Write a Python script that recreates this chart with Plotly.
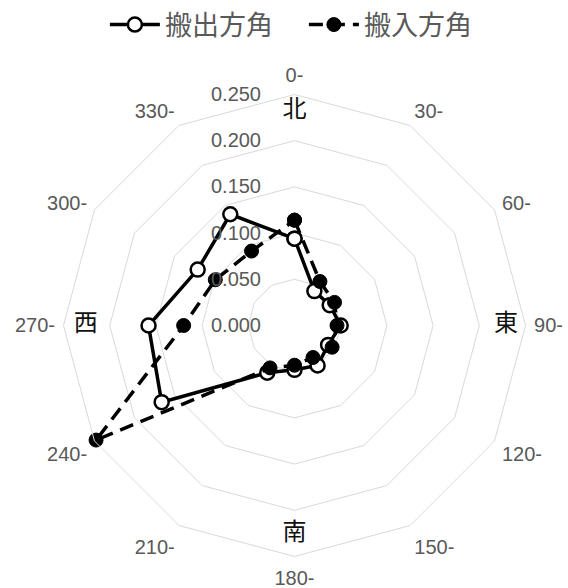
import plotly.graph_objects as go

categories = ["0-", "30-", "60-", "90-", "120-", "150-", "180-", "210-", "240-", "270-", "300-", "330-"]
out_values = [0.094, 0.043, 0.044, 0.050, 0.042, 0.050, 0.048, 0.059, 0.166, 0.158, 0.121, 0.139]
in_values = [0.114, 0.055, 0.050, 0.046, 0.047, 0.040, 0.043, 0.053, 0.248, 0.120, 0.099, 0.093]
radial_ticks = [0, 0.05, 0.10, 0.15, 0.20, 0.25]
compass_labels = ["北", "東", "南", "西"]
compass_cats = ["0-", "90-", "180-", "270-"]
compass_r = [0.232, 0.229, 0.226, 0.226]

GRID = "#d9d9d9"
TXT = "#595959"

fig = go.Figure()
fig.add_trace(go.Scatterpolar(
    r=out_values + out_values[:1], theta=categories + categories[:1],
    mode="lines+markers", name="搬出方角",
    line=dict(color="black", width=3.5),
    marker=dict(symbol="circle", size=14, color="white", line=dict(color="black", width=2.5)),
))
fig.add_trace(go.Scatterpolar(
    r=in_values + in_values[:1], theta=categories + categories[:1],
    mode="lines+markers", name="搬入方角",
    line=dict(color="black", width=3.5, dash="14px,8px"),
    marker=dict(symbol="circle", size=14, color="black", line=dict(color="black", width=1)),
))
fig.add_trace(go.Scatterpolar(
    r=compass_r, theta=compass_cats, mode="text", text=compass_labels,
    textfont=dict(family="Noto Sans CJK JP", size=24, color="#111111"),
    showlegend=False, hoverinfo="skip",
))

fig.update_layout(
    width=568, height=588,
    margin=dict(l=0, r=0, t=0, b=0),
    paper_bgcolor="white", plot_bgcolor="white",
    showlegend=True,
    legend=dict(orientation="h", x=0.535, xanchor="center", y=1 - 25 / 588, yanchor="middle",
                font=dict(family="Noto Sans CJK JP", size=27, color=TXT),
                itemsizing="trace", itemwidth=50, entrywidth=134),
    polar=dict(
        domain=dict(x=[0.1118, 0.9252], y=[0.0536, 0.8393]),
        bgcolor="white",
        gridshape="linear",
        radialaxis=dict(
            range=[0, 0.25], tickvals=radial_ticks, tickformat=".3f",
            angle=90, side="counterclockwise", showline=False,
            ticks="outside", ticklen=26, tickcolor="rgba(0,0,0,0)",
            tickangle=90,
            gridcolor=GRID, gridwidth=1,
            tickfont=dict(family="Liberation Sans, Arial", size=20, color=TXT),
        ),
        angularaxis=dict(
            type="category", categoryarray=categories, direction="clockwise", rotation=90,
            showgrid=False, showline=True, linecolor=GRID, linewidth=1,
            ticks="outside", ticklen=4, tickcolor="rgba(0,0,0,0)",
            tickfont=dict(family="Liberation Sans, Arial", size=20, color=TXT),
        ),
    ),
)

fig.write_html("out.html")
